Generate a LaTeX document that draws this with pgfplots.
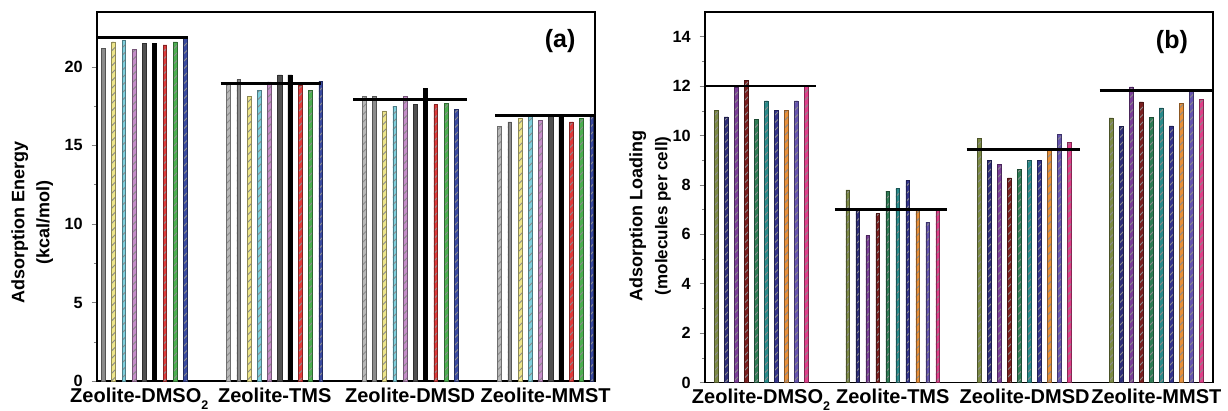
\documentclass[border=0pt]{standalone}
\usepackage{fontspec}
\setmainfont{Liberation Sans}
\usepackage{pgfplots}
\pgfplotsset{compat=1.18}
\usetikzlibrary{patterns}

% panel (a) colours
\definecolor{ca1}{HTML}{B8B8B8}
\definecolor{ca2}{HTML}{8C8C8C}
\definecolor{ca3}{HTML}{EDE58A}
\definecolor{ca4}{HTML}{7FCFDC}
\definecolor{ca5}{HTML}{C58DC8}
\definecolor{ca6}{HTML}{505050}
\definecolor{ca7}{HTML}{000000}
\definecolor{ca8}{HTML}{E03A3A}
\definecolor{ca9}{HTML}{4CAF50}
\definecolor{ca10}{HTML}{3A4AA0}
% panel (b) colours
\definecolor{cb1}{HTML}{7D8B45}
\definecolor{cb2}{HTML}{2E2E7A}
\definecolor{cb3}{HTML}{7B3F98}
\definecolor{cb4}{HTML}{7A1F1F}
\definecolor{cb5}{HTML}{2E7D55}
\definecolor{cb6}{HTML}{2A8C8C}
\definecolor{cb7}{HTML}{34348C}
\definecolor{cb8}{HTML}{E8913A}
\definecolor{cb9}{HTML}{6655B0}
\definecolor{cb10}{HTML}{E0408A}

\pgfplotsset{
 zeo/.style={scale only axis,
  xtick={0,1,2,3},
  xticklabels={Zeolite-DMSO\raisebox{-0.35em}{\fontsize{5}{5}\selectfont 2},Zeolite-TMS,Zeolite-DMSD,Zeolite-MMST},
  x tick label style={font=\fontsize{8}{9}\selectfont\bfseries,yshift=3pt},
  y tick label style={font=\fontsize{6.5}{7}\selectfont\bfseries},
  /pgf/number format/assume math mode=true,
  xtick style={draw=none},
  ytick pos=left, tick align=outside,
  major tick length=2.2pt, minor tick length=1.3pt,
  minor y tick num=1,
  axis line style={line width=0.6pt},
  ylabel style={align=center,font=\fontsize{7.2}{10}\selectfont\bfseries},
  clip=true},
 b/.style 2 args={ybar, bar width=1.5pt, bar shift=#2, fill=#1, draw=#1!60!black, line width=0.25pt,
  postaction={pattern=north east lines, pattern color=black!45}},
 bs/.style 2 args={ybar, bar width=1.7pt, bar shift=#2, fill=#1, draw=#1!60!black, line width=0.25pt},
 hl/.style={black, line width=1.1pt, no marks}
}

\begin{document}
\begin{tikzpicture}
\useasboundingbox (0,0) rectangle (491.2pt,164pt);

\begin{axis}[zeo, at={(38.8pt,11.6pt)}, anchor=south west,
 width=199.2pt, height=147.6pt,
 xmin=-0.312, xmax=3.365, ymin=0, ymax=23.5,
 ytick={0,5,10,15,20},
 ylabel={Adsorption Energy\\(kcal/mol)},
 ylabel style={at={(axis description cs:-0.13,0.43)}, anchor=center}]
\addplot[b={ca1}{-18.45pt}] coordinates {(0,21.3) (1,19.0) (2,18.1) (3,16.2)};
\addplot[b={ca2}{-14.35pt}] coordinates {(0,21.2) (1,19.2) (2,18.1) (3,16.5)};
\addplot[b={ca3}{-10.25pt}] coordinates {(0,21.6) (1,18.1) (2,17.2) (3,16.7)};
\addplot[b={ca4}{-6.15pt}] coordinates {(0,21.7) (1,18.5) (2,17.5) (3,17.0)};
\addplot[b={ca5}{-2.05pt}] coordinates {(0,21.1) (1,19.05) (2,18.15) (3,16.6)};
\addplot[bs={ca6}{2.05pt}] coordinates {(0,21.5) (1,19.5) (2,17.6) (3,17.0)};
\addplot[bs={ca7}{6.15pt}] coordinates {(0,21.5) (1,19.5) (2,18.65) (3,16.85)};
\addplot[b={ca8}{10.25pt}] coordinates {(0,21.4) (1,18.8) (2,17.6) (3,16.5)};
\addplot[b={ca9}{14.35pt}] coordinates {(0,21.6) (1,18.5) (2,17.7) (3,16.7)};
\addplot[b={ca10}{18.45pt}] coordinates {(0,21.8) (1,19.1) (2,17.3) (3,16.85)};
\addplot[hl] coordinates {(-0.42,21.9) (0.36,21.9)};
\addplot[hl] coordinates {(0.6,18.95) (1.34,18.95)};
\addplot[hl] coordinates {(1.58,17.95) (2.42,17.95)};
\addplot[hl] coordinates {(2.63,16.9) (3.45,16.9)};
\node[font=\fontsize{10}{12}\selectfont\bfseries] at (rel axis cs:0.93,0.92) {(a)};
\end{axis}

\begin{axis}[zeo, at={(282pt,11pt)}, anchor=south west,
 width=203.2pt, height=148.2pt,
 xmin=-0.425, xmax=3.43, ymin=0, ymax=15,
 ytick={0,2,4,6,8,10,12,14},
 ylabel={Adsorption Loading\\{\fontsize{6.8}{8}\selectfont(molecules per cell)}},
 ylabel style={at={(axis description cs:-0.108,0.45)}, anchor=center}]
\addplot[b={cb1}{-18pt}] coordinates {(0,11.0) (1,7.8) (2,9.87) (3,10.71)};
\addplot[b={cb2}{-14pt}] coordinates {(0,10.75) (1,6.96) (2,8.99) (3,10.37)};
\addplot[b={cb3}{-10pt}] coordinates {(0,11.97) (1,5.95) (2,8.83) (3,11.97)};
\addplot[b={cb4}{-6pt}] coordinates {(0,12.24) (1,6.83) (2,8.28) (3,11.36)};
\addplot[b={cb5}{-2pt}] coordinates {(0,10.66) (1,7.75) (2,8.62) (3,10.74)};
\addplot[b={cb6}{2pt}] coordinates {(0,11.4) (1,7.85) (2,8.99) (3,11.12)};
\addplot[b={cb7}{6pt}] coordinates {(0,11.0) (1,8.18) (2,8.99) (3,10.39)};
\addplot[b={cb8}{10pt}] coordinates {(0,11.0) (1,6.96) (2,9.43) (3,11.3)};
\addplot[b={cb9}{14pt}] coordinates {(0,11.4) (1,6.49) (2,10.04) (3,11.8)};
\addplot[b={cb10}{18pt}] coordinates {(0,12.0) (1,6.96) (2,9.71) (3,11.47)};
\addplot[hl] coordinates {(-0.43,12.0) (0.42,12.0)};
\addplot[hl] coordinates {(0.56,7.0) (1.41,7.0)};
\addplot[hl] coordinates {(1.56,9.43) (2.42,9.43)};
\addplot[hl] coordinates {(2.57,11.83) (3.45,11.83)};
\node[font=\fontsize{10}{12}\selectfont\bfseries] at (rel axis cs:0.919,0.92) {(b)};
\end{axis}
\end{tikzpicture}
\end{document}
